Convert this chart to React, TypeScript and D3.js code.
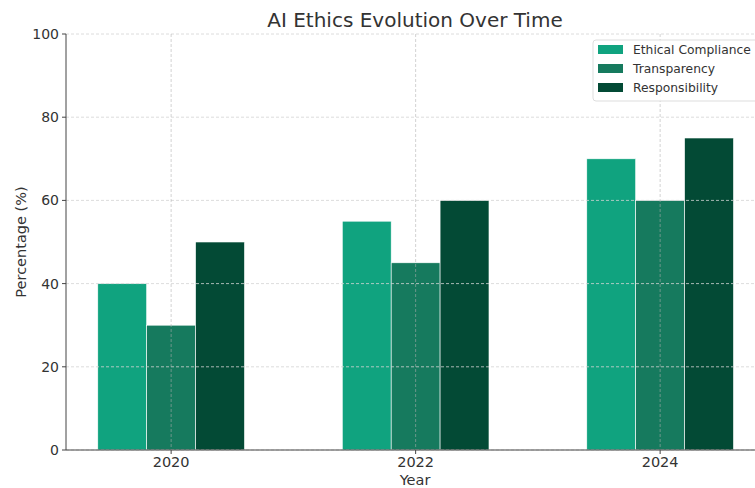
import React from "react";
import * as d3 from "d3";

const years = ["2020", "2022", "2024"];
const seriesNames = ["Ethical Compliance", "Transparency", "Responsibility"];
const ethicalCompliance = [40, 55, 70];
const transparency = [30, 45, 60];
const responsibility = [50, 60, 75];
const colors = ["#10a37f", "#167a5e", "#034a35"];
const yTicks = [0, 20, 40, 60, 80, 100];

const W = 755, H = 488;
const left = 66, top = 34, bottom = 450;
const pxPerUnit = 244.5;
const xMin = -0.43, xMax = 2.43;

export default function App() {
  const series = [ethicalCompliance, transparency, responsibility];
  const x = d3.scaleLinear().domain([xMin, xMax]).range([left, left + (xMax - xMin) * pxPerUnit]);
  const y = d3.scaleLinear().domain([0, 100]).range([bottom, top]);
  const bw = 0.2;
  const font = "DejaVu Sans, sans-serif";
  return (
    <svg width={W} height={H} style={{ position: "absolute", left: 0, top: 0 }} fontFamily={font}>
      <rect width={W} height={H} fill="#fff" />
      {series.map((vals, si) =>
        vals.map((v, i) => {
          const cx = i + (si - 1) * bw;
          return (
            <rect key={`${si}-${i}`} x={x(cx - bw / 2)} y={y(v)} width={x(cx + bw / 2) - x(cx - bw / 2)} height={y(0) - y(v)}
              fill={colors[si]} stroke="#fff" strokeWidth={0.6} />
          );
        })
      )}
      {yTicks.map((t) => (
        <line key={"gy" + t} x1={left} x2={W} y1={y(t)} y2={y(t)} stroke="#d3d3d3" strokeDasharray="3,2" strokeWidth={0.8} />
      ))}
      {years.map((yr, i) => (
        <line key={"gx" + yr} x1={x(i)} x2={x(i)} y1={top} y2={bottom} stroke="#b0b0b0" strokeOpacity={0.7} strokeDasharray="3,2" strokeWidth={0.8} />
      ))}
      <line x1={left} x2={left} y1={top} y2={bottom} stroke="#444" strokeWidth={1} />
      <line x1={left} x2={W} y1={bottom} y2={bottom} stroke="#444" strokeWidth={1} />
      {yTicks.map((t) => (
        <g key={"ty" + t}>
          <line x1={left - 4} x2={left} y1={y(t)} y2={y(t)} stroke="#444" />
          <text x={left - 7} y={y(t)} dy="0.35em" textAnchor="end" fontSize={14} fill="#333">{t}</text>
        </g>
      ))}
      {years.map((yr, i) => (
        <g key={"tx" + yr}>
          <line x1={x(i)} x2={x(i)} y1={bottom} y2={bottom + 4} stroke="#444" />
          <text x={x(i)} y={bottom + 17} textAnchor="middle" fontSize={14.5} fill="#333">{yr}</text>
        </g>
      ))}
      <text x={415} y={485} textAnchor="middle" fontSize={14.5} fill="#333">Year</text>
      <text transform={`translate(26,${(top + bottom) / 2}) rotate(-90)`} textAnchor="middle" fontSize={14.5} fill="#333">Percentage (%)</text>
      <text x={415} y={27} textAnchor="middle" fontSize={20} fill="#333">AI Ethics Evolution Over Time</text>
      <g>
        <rect x={593} y={40} width={170} height={61} rx={3} fill="#fff" fillOpacity={0.85} stroke="#ddd" />
        {seriesNames.map((n, i) => (
          <g key={n}>
            <rect x={598} y={45 + i * 19} width={25} height={9} fill={colors[i]} />
            <text x={633} y={50 + i * 19} dy="0.35em" fontSize={12.3} fill="#333">{n}</text>
          </g>
        ))}
      </g>
    </svg>
  );
}
